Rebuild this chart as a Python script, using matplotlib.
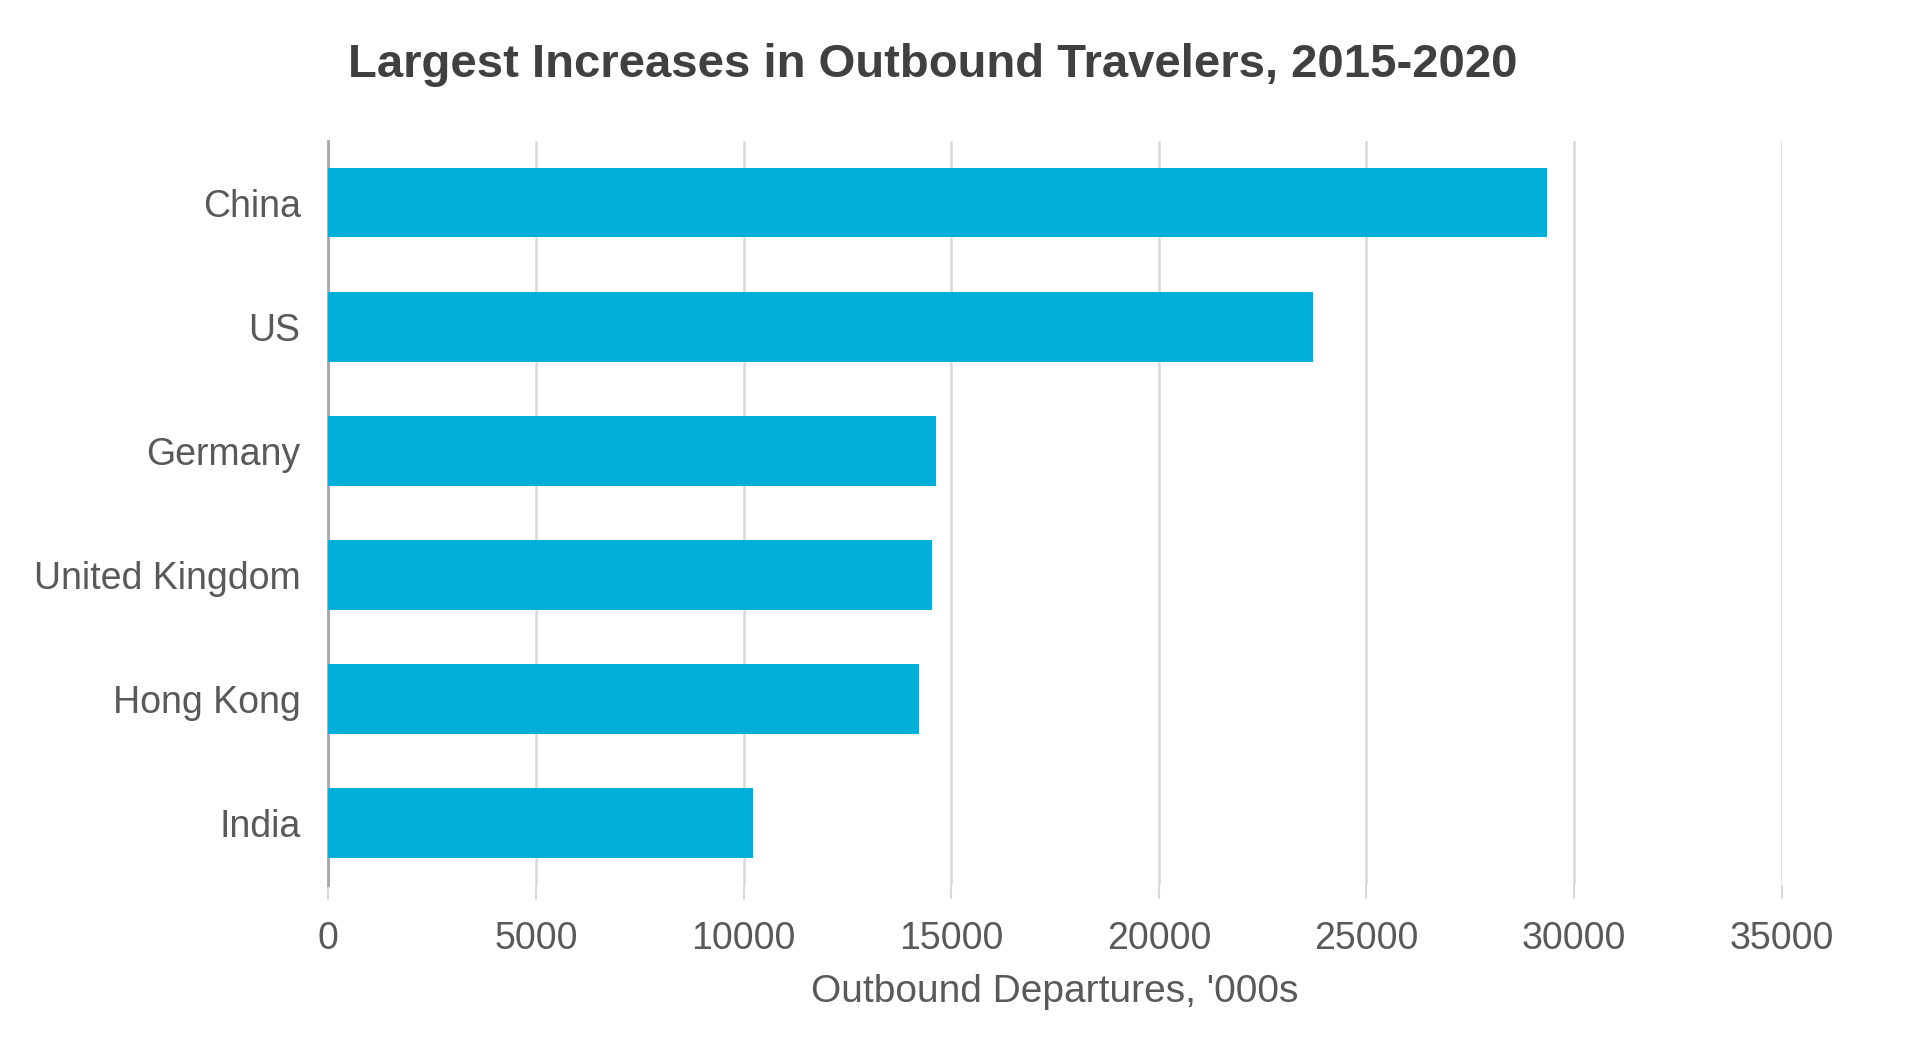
import matplotlib
matplotlib.use('Agg')
import matplotlib.pyplot as plt

plt.rcParams.update({'font.family': ['Liberation Sans', 'DejaVu Sans']})

countries = ['China', 'US', 'Germany', 'United Kingdom', 'Hong Kong', 'India']
increase = [29350, 23700, 14630, 14540, 14230, 10220]
xticks = [0, 5000, 10000, 15000, 20000, 25000, 30000, 35000]

BAR = '#00AEDA'
TXT = '#595959'

fig = plt.figure(figsize=(19.2, 10.5), dpi=100)
ax = fig.add_axes([0.171, 0.157, 0.757, 0.709])

ypos = list(range(len(countries)))
ax.barh(ypos, increase, height=0.56, color=BAR, zorder=3)
ax.set_ylim(len(countries) - 0.5, -0.5)
ax.set_xlim(0, 35000)
ax.set_yticks(ypos)
ax.set_yticklabels(countries, fontsize=27, color=TXT)
ax.set_xticks(xticks)
ax.set_xticklabels([str(t) for t in xticks], fontsize=27, color=TXT)
ax.tick_params(axis='y', length=0, pad=20)
ax.tick_params(axis='x', length=10, color='#d9d9d9', width=1.5, pad=16)

ax.grid(axis='x', color='#d9d9d9', linewidth=1.8, zorder=0)
for s in ['top', 'right', 'bottom']:
    ax.spines[s].set_visible(False)
ax.spines['left'].set_color('#a6a6a6')
ax.spines['left'].set_linewidth(2)

ax.set_xlabel("Outbound Departures, '000s", fontsize=28, color=TXT, labelpad=12)
fig.text(0.486, 0.938, 'Largest Increases in Outbound Travelers, 2015-2020',
         ha='center', va='center', fontsize=34, fontweight='bold', color='#404040')

fig.savefig('out.png', dpi=100)
